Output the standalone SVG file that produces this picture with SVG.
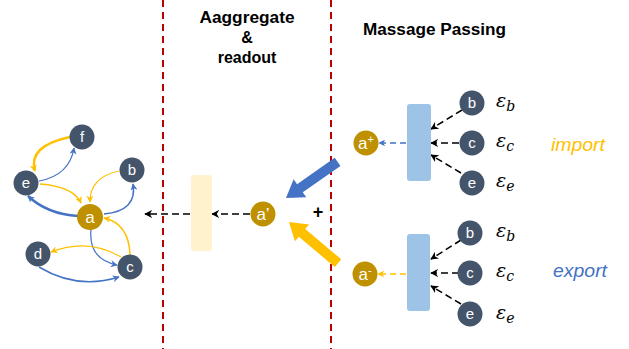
<svg xmlns="http://www.w3.org/2000/svg" width="629" height="349" viewBox="0 0 629 349">
<style>
.nd{fill:#44546A}
.gd{fill:#BF9000}
.lb{font-family:"Liberation Sans",Arial,sans-serif;font-size:15px;fill:#fff;text-anchor:middle}
.lg{font-size:17px}
.ttl{font-family:"Liberation Sans",Arial,sans-serif;font-size:16px;font-weight:bold;fill:#000;text-anchor:middle}
.eps{font-family:"DejaVu Serif","Liberation Serif",serif;font-style:italic;font-size:19px;fill:#000}
.sub{font-size:14px}
.red{stroke:#C00000;stroke-width:2;stroke-dasharray:7 5;fill:none}
.dk{stroke:#000;stroke-width:1.5;stroke-dasharray:7 4;fill:none;marker-end:url(#mk)}
.bl{stroke:#4472C4;fill:none;marker-end:url(#mb)}
.yl{stroke:#FFC000;fill:none;marker-end:url(#my)}
</style>
<defs>
<marker id="mk" viewBox="0 0 10 10" refX="9" refY="5" markerWidth="8" markerHeight="8" markerUnits="userSpaceOnUse" orient="auto"><path d="M0,0 L10,5 L0,10 L3,5 Z" fill="#000"/></marker>
<marker id="mb" viewBox="0 0 10 10" refX="9" refY="5" markerWidth="7" markerHeight="7" markerUnits="userSpaceOnUse" orient="auto"><path d="M0,0 L10,5 L0,10 L3,5 Z" fill="#4472C4"/></marker>
<marker id="my" viewBox="0 0 10 10" refX="9" refY="5" markerWidth="7" markerHeight="7" markerUnits="userSpaceOnUse" orient="auto"><path d="M0,0 L10,5 L0,10 L3,5 Z" fill="#FFC000"/></marker>
</defs>
<rect width="629" height="349" fill="#fff"/>

<g id="dividers">
<line class="red" x1="163" y1="0" x2="163" y2="349"/>
<line class="red" x1="331" y1="0" x2="331" y2="349"/>
</g>

<g id="titles">
<text class="ttl" x="247" y="23" textLength="95" lengthAdjust="spacingAndGlyphs">Aaggregate</text>
<text class="ttl" x="247" y="43">&amp;</text>
<text class="ttl" x="247" y="63">readout</text>
<text class="ttl" x="434.5" y="35" textLength="143" lengthAdjust="spacingAndGlyphs">Massage Passing</text>
</g>

<g id="connectors">
<path class="yl" stroke-width="2.5" d="M70,137 Q27.5,146 35,171"/>
<path class="bl" stroke-width="1.2" d="M39,181 Q69.5,175.5 74,148"/>
<path class="yl" stroke-width="1.5" d="M40,184 Q73.5,186.5 81,203"/>
<path class="bl" stroke-width="2.5" d="M78,216 Q47,214 28,196"/>
<path class="yl" stroke-width="1.2" d="M119,171 Q89.5,177.5 90,202"/>
<path class="bl" stroke-width="1.5" d="M104,214 Q137.5,211 133,184"/>
<path class="yl" stroke-width="1.5" d="M130,255 Q129,223.5 104,218"/>
<path class="bl" stroke-width="1.2" d="M91,229 Q88,259 117,265"/>
<path class="yl" stroke-width="1.2" d="M121,257 Q88,237.5 51,252"/>
<path class="bl" stroke-width="1.5" d="M39,267 Q77,290 119,277"/>

<line class="dk" x1="190" y1="214" x2="145" y2="214"/>
<line class="dk" x1="250" y1="214" x2="212" y2="214"/>

<path fill="#4472C4" transform="translate(286,198) rotate(-35)" d="M0,0 L17,-11 L17,-5 L63,-5 L63,5 L17,5 L17,11 Z"/>
<path fill="#FFC000" transform="translate(289,222) rotate(40)" d="M0,0 L17,-11 L17,-5 L64,-5 L64,5 L17,5 L17,11 Z"/>

<line class="dk" x1="462" y1="110" x2="431" y2="129"/>
<line class="dk" x1="459" y1="143" x2="431" y2="143"/>
<line class="dk" x1="461" y1="173" x2="431" y2="155"/>
<line stroke="#4472C4" stroke-width="1.5" stroke-dasharray="6 4" marker-end="url(#mb)" x1="406" y1="143" x2="379" y2="143"/>

<line class="dk" x1="461" y1="240" x2="431" y2="259"/>
<line class="dk" x1="459" y1="273" x2="431" y2="273"/>
<line class="dk" x1="461" y1="304" x2="431" y2="286"/>
<line stroke="#FFC000" stroke-width="1.5" stroke-dasharray="6 4" marker-end="url(#my)" x1="406" y1="274" x2="378" y2="274"/>
</g>

<g id="node-f"><circle class="nd" cx="82" cy="137" r="12.5"/><text class="lb" x="82" y="142">f</text></g>
<g id="node-e"><circle class="nd" cx="26" cy="183" r="12.5"/><text class="lb" x="26" y="188">e</text></g>
<g id="node-b"><circle class="nd" cx="132" cy="170" r="12.5"/><text class="lb" x="132" y="175">b</text></g>
<g id="node-a"><circle class="gd" cx="90" cy="217" r="13"/><text class="lb lg" x="90" y="223">a</text></g>
<g id="node-d"><circle class="nd" cx="38" cy="254" r="12.5"/><text class="lb" x="38" y="259">d</text></g>
<g id="node-c"><circle class="nd" cx="130" cy="267" r="12.5"/><text class="lb" x="130" y="272">c</text></g>

<g id="readout-bar"><rect x="191" y="175" width="21" height="76" rx="3" fill="#FFF2CC"/></g>
<g id="node-a-prime"><circle class="gd" cx="263" cy="214" r="12.5"/><text class="lb lg" x="263" y="220">a’</text></g>
<g id="plus"><text x="318" y="218" font-family="Liberation Sans,Arial,sans-serif" font-size="18" font-weight="bold" text-anchor="middle">+</text></g>

<g id="import-bar"><rect x="407" y="104" width="24" height="77" rx="3" fill="#9DC3E6"/></g>
<g id="node-a-plus"><circle class="gd" cx="366" cy="143" r="12.5"/><text class="lb lg" x="366" y="149">a<tspan font-size="11" dy="-6">+</tspan></text></g>
<g id="imp-b"><circle class="nd" cx="472" cy="103" r="12.5"/><text class="lb" x="472" y="108">b</text></g>
<g id="imp-c"><circle class="nd" cx="472" cy="143" r="12.5"/><text class="lb" x="472" y="148">c</text></g>
<g id="imp-e"><circle class="nd" cx="472" cy="183" r="12.5"/><text class="lb" x="472" y="188">e</text></g>
<text class="eps" x="496" y="107">ε<tspan class="sub" dy="4">b</tspan></text>
<text class="eps" x="496" y="147">ε<tspan class="sub" dy="4">c</tspan></text>
<text class="eps" x="496" y="187">ε<tspan class="sub" dy="4">e</tspan></text>
<text x="551" y="151" font-family="Liberation Sans,Arial,sans-serif" font-style="italic" font-size="18" fill="#FFC000" textLength="54" lengthAdjust="spacingAndGlyphs">import</text>

<g id="export-bar"><rect x="407" y="234" width="23" height="77" rx="3" fill="#9DC3E6"/></g>
<g id="node-a-minus"><circle class="gd" cx="365" cy="274" r="12.5"/><text class="lb lg" x="365" y="280">a<tspan font-size="11" dy="-6">-</tspan></text></g>
<g id="exp-b"><circle class="nd" cx="470" cy="233" r="12.5"/><text class="lb" x="470" y="238">b</text></g>
<g id="exp-c"><circle class="nd" cx="470" cy="273" r="12.5"/><text class="lb" x="470" y="278">c</text></g>
<g id="exp-e"><circle class="nd" cx="470" cy="314" r="12.5"/><text class="lb" x="470" y="319">e</text></g>
<text class="eps" x="496" y="237">ε<tspan class="sub" dy="4">b</tspan></text>
<text class="eps" x="496" y="277">ε<tspan class="sub" dy="4">c</tspan></text>
<text class="eps" x="496" y="319">ε<tspan class="sub" dy="4">e</tspan></text>
<text x="553" y="277" font-family="Liberation Sans,Arial,sans-serif" font-style="italic" font-size="18" fill="#4472C4" textLength="54" lengthAdjust="spacingAndGlyphs">export</text>
</svg>
